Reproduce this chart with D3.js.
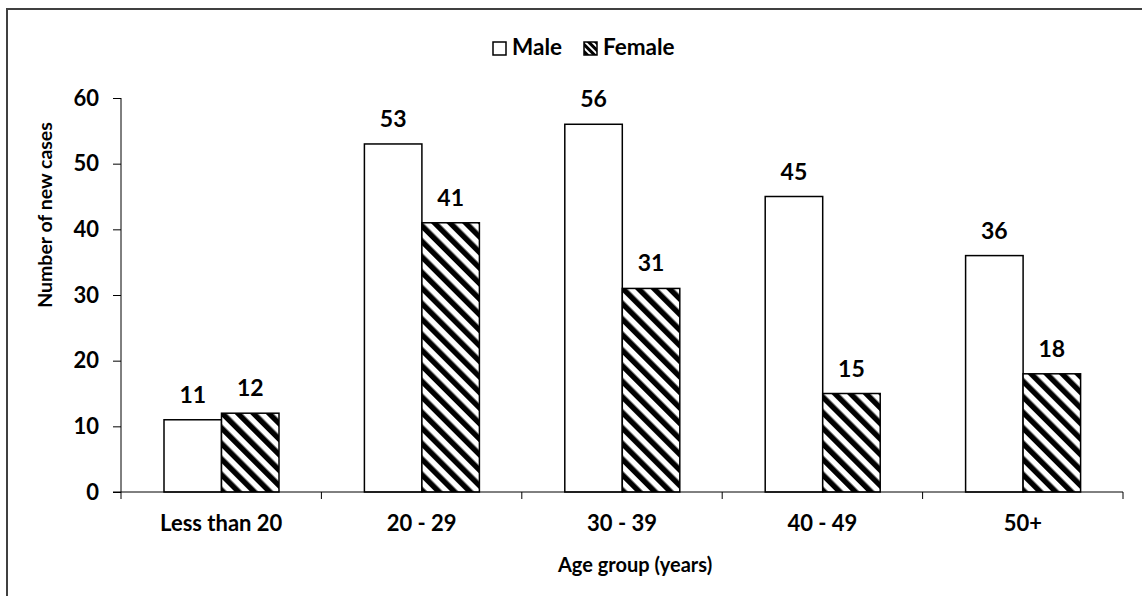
<!DOCTYPE html>
<html>
<head>
<meta charset="utf-8">
<script src="https://cdnjs.cloudflare.com/ajax/libs/d3/7.8.5/d3.min.js"></script>
<style>
  body { margin: 0; background: #fff; }
  svg { display: block; font-family: Lato, "Open Sans", sans-serif; font-weight: 700; }
  .axis path, .axis line { stroke: #000; stroke-width: 1; }
  .axis text { font-family: Lato, sans-serif; font-weight: 700; fill: #000; }
</style>
</head>
<body>
<svg width="1142" height="596"></svg>
<script>
// data
var categories = ["Less than 20", "20 - 29", "30 - 39", "40 - 49", "50+"];
var series = ["Male", "Female"];
var maleValues = [11, 53, 56, 45, 36];
var femaleValues = [12, 41, 31, 15, 18];
var yTicks = [0, 10, 20, 30, 40, 50, 60];

var svg = d3.select("svg"),
  margin = {top: 98, left: 121},
  width = 1002,
  height = 394;

// outer frame (runs off the right and bottom edges)
svg.append("rect")
  .attr("x", 7).attr("y", 9)
  .attr("width", 1300).attr("height", 800)
  .attr("fill", "none").attr("stroke", "#404040").attr("stroke-width", 2);

// hatch pattern
var defs = svg.append("defs");
var pat = defs.append("pattern")
  .attr("id", "hatch")
  .attr("patternUnits", "userSpaceOnUse")
  .attr("width", 11).attr("height", 11)
  .attr("patternTransform", "rotate(-45)");
pat.append("rect").attr("width", 11).attr("height", 11).attr("fill", "#fff");
pat.append("rect").attr("width", 5.5).attr("height", 11).attr("fill", "#000");

var patSmall = defs.append("pattern")
  .attr("id", "hatchSmall")
  .attr("patternUnits", "userSpaceOnUse")
  .attr("width", 5).attr("height", 5)
  .attr("patternTransform", "rotate(-45)");
patSmall.append("rect").attr("width", 5).attr("height", 5).attr("fill", "#fff");
patSmall.append("rect").attr("width", 3).attr("height", 5).attr("fill", "#000");

var data = categories.map(function(c, i) {
  return {cat: c, vals: [maleValues[i], femaleValues[i]]};
});

var x0 = d3.scaleBand()
  .domain(categories)
  .range([0, width]);

var x1 = d3.scaleBand()
  .domain(series)
  .range([43, 158]);

var y = d3.scaleLinear()
  .domain([0, 60])
  .range([height, 0]);

var g = svg.append("g")
  .attr("transform", "translate(" + margin.left + "," + margin.top + ")");

// bars
var groups = g.selectAll(".grp").data(data).enter().append("g")
  .attr("class", "grp")
  .attr("transform", function(d) { return "translate(" + x0(d.cat) + ",0)"; });

groups.selectAll("rect")
  .data(function(d) { return d.vals.map(function(v, i) { return {s: series[i], v: v}; }); })
  .enter().append("rect")
  .attr("x", function(d) { return x1(d.s); })
  .attr("y", function(d) { return y(d.v); })
  .attr("width", x1.bandwidth())
  .attr("height", function(d) { return height - y(d.v); })
  .attr("fill", function(d) { return d.s == "Male" ? "#fff" : "url(#hatch)"; })
  .attr("stroke", "#000")
  .attr("stroke-width", 1.5);

groups.selectAll(".val")
  .data(function(d) { return d.vals.map(function(v, i) { return {s: series[i], v: v}; }); })
  .enter().append("text")
  .attr("class", "val")
  .attr("x", function(d) { return x1(d.s) + x1.bandwidth() / 2; })
  .attr("y", function(d) { return y(d.v) - 17; })
  .attr("text-anchor", "middle")
  .style("font-size", "23px")
  .text(function(d) { return d.v; });

// y axis
var yAxis = g.append("g")
  .attr("class", "axis")
  .call(d3.axisLeft(y).tickValues(yTicks).tickSize(8).tickPadding(14).tickSizeOuter(0));
yAxis.select(".domain").attr("d", "M0,0V" + (height + 7));
yAxis.selectAll("text").style("font-size", "22px");

// x axis
var xAxis = g.append("g")
  .attr("class", "axis")
  .attr("transform", "translate(0," + height + ")")
  .call(d3.axisBottom(x0).tickSize(0).tickPadding(23).tickSizeOuter(0));
xAxis.select(".domain").attr("d", "M-8,0H" + width);
xAxis.selectAll("text").style("font-size", "22px");
xAxis.selectAll(".bound").data(categories.slice(1).concat(["end"])).enter().append("line")
  .attr("class", "bound")
  .attr("x1", function(d, i) { return x0.step() * (i + 1); })
  .attr("x2", function(d, i) { return x0.step() * (i + 1); })
  .attr("y1", 0).attr("y2", 7)
  .attr("stroke", "#000");

// axis titles
svg.append("text")
  .attr("transform", "translate(52,215) rotate(-90)")
  .attr("text-anchor", "middle")
  .style("font-size", "19.5px")
  .text("Number of new cases");

svg.append("text")
  .attr("x", 635).attr("y", 572)
  .attr("text-anchor", "middle")
  .style("font-size", "20px")
  .text("Age group (years)");

// legend
var legend = svg.append("g");
var legX = [493, 584];
series.forEach(function(s, i) {
  legend.append("rect")
    .attr("x", legX[i]).attr("y", 42)
    .attr("width", 13).attr("height", 13)
    .attr("fill", i == 0 ? "#fff" : "url(#hatchSmall)")
    .attr("stroke", "#000").attr("stroke-width", 1.5);
  legend.append("text")
    .attr("x", legX[i] + 19).attr("y", 55)
    .style("font-size", "22.5px")
    .text(s);
});
</script>
</body>
</html>
